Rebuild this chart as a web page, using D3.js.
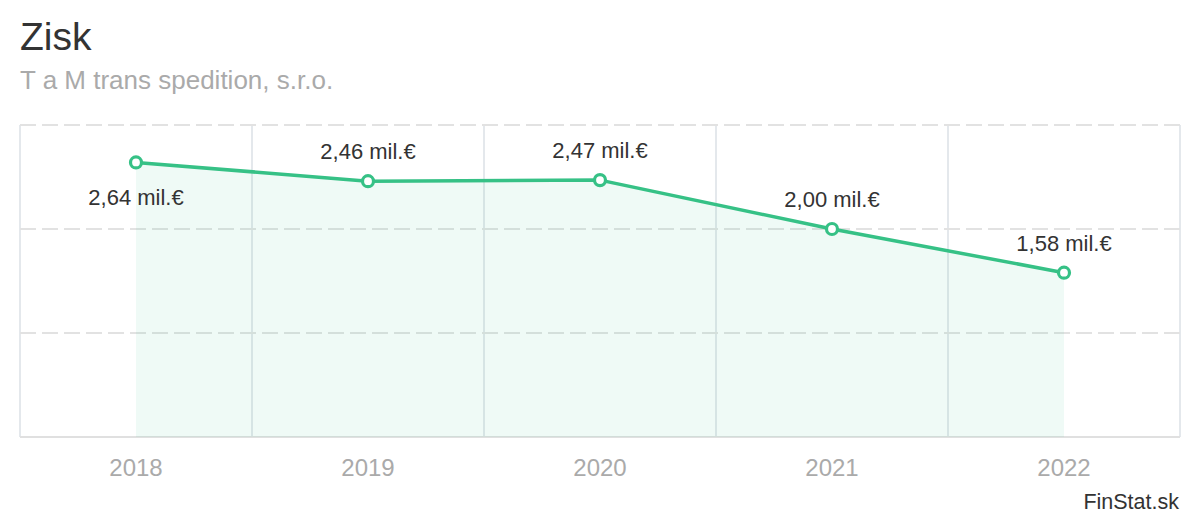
<!DOCTYPE html>
<html>
<head>
<meta charset="utf-8">
<script src="https://cdn.jsdelivr.net/npm/d3@7"></script>
<style>
  html, body { margin: 0; padding: 0; background: #fff; }
  svg { display: block; font-family: Arial, "Liberation Sans", Helvetica, sans-serif; }
</style>
</head>
<body>
<svg id="chart" width="1200" height="520"></svg>
<script>
const title = "Zisk";
const subtitle = "T a M trans spedition, s.r.o.";
const credit = "FinStat.sk";
const years = ["2018", "2019", "2020", "2021", "2022"];
const profit = [2.64, 2.46, 2.47, 2.00, 1.58];
const valueLabels = ["2,64 mil.€", "2,46 mil.€", "2,47 mil.€", "2,00 mil.€", "1,58 mil.€"];
const yTicks = [1, 2, 3];

const W = 1200, H = 520;
const plot = { left: 20, right: 1180, top: 125, bottom: 437 };
const green = "#36c186";

const svg = d3.select("#chart");

const x = d3.scaleBand().domain(years).range([plot.left, plot.right]);
const y = d3.scaleLinear().domain([0, 3]).range([plot.bottom, plot.top]);
const cx = d => x(d) + x.bandwidth() / 2;

// titles
svg.append("text").attr("x", 20).attr("y", 50)
  .attr("font-size", 39).attr("fill", "#333").text(title);
svg.append("text").attr("x", 20).attr("y", 89)
  .attr("font-size", 26).attr("fill", "#aaa").text(subtitle);

// vertical grid (band boundaries) + borders
const gridG = svg.append("g");
const bounds = years.map(d => x(d)).concat([plot.right]);
gridG.selectAll("line.v").data(bounds).join("line")
  .attr("x1", d => d).attr("x2", d => d)
  .attr("y1", plot.top).attr("y2", plot.bottom)
  .attr("stroke", "#e4e8ec").attr("stroke-width", 2);

// horizontal dashed grid
gridG.selectAll("line.h").data(yTicks).join("line")
  .attr("x1", plot.left).attr("x2", plot.right)
  .attr("y1", d => y(d)).attr("y2", d => y(d))
  .attr("stroke", "#e2e2e2").attr("stroke-width", 2)
  .attr("stroke-dasharray", "16,6");

// x axis line
svg.append("line")
  .attr("x1", plot.left).attr("x2", plot.right)
  .attr("y1", plot.bottom).attr("y2", plot.bottom)
  .attr("stroke", "#e0e0e0").attr("stroke-width", 2);

// x axis labels
const xAxis = d3.axisBottom(x).tickSize(0).tickPadding(0);
const ax = svg.append("g").attr("transform", `translate(0,${plot.bottom})`).call(xAxis);
ax.select(".domain").remove();
ax.selectAll("text")
  .attr("font-family", "Arial, 'Liberation Sans', sans-serif")
  .attr("font-size", 24).attr("fill", "#aaa")
  .attr("dy", null).attr("y", 39);

const data = years.map((d, i) => ({ year: d, v: profit[i], label: valueLabels[i] }));

// area
const area = d3.area().x(d => cx(d.year)).y0(y(0)).y1(d => y(d.v));
svg.append("path").datum(data).attr("d", area)
  .attr("fill", green).attr("fill-opacity", 0.08);

// line
const line = d3.line().x(d => cx(d.year)).y(d => y(d.v));
svg.append("path").datum(data).attr("d", line)
  .attr("fill", "none").attr("stroke", green).attr("stroke-width", 3.5)
  .attr("stroke-linejoin", "round").attr("stroke-linecap", "round");

// markers
svg.selectAll("circle.pt").data(data).join("circle")
  .attr("cx", d => cx(d.year)).attr("cy", d => y(d.v)).attr("r", 5.5)
  .attr("fill", "#fff").attr("stroke", green).attr("stroke-width", 3.2);

// value labels
svg.selectAll("text.val").data(data).join("text")
  .attr("x", d => cx(d.year))
  .attr("y", d => {
    const py = y(d.v);
    return (py - 36 < plot.top + 12) ? py + 43 : py - 22;
  })
  .attr("text-anchor", "middle").attr("font-size", 22).attr("fill", "#333")
  .text(d => d.label);

// credit
svg.append("text").attr("x", 1179).attr("y", 509).attr("text-anchor", "end")
  .attr("font-size", 21.5).attr("fill", "#333").text(credit);
</script>
</body>
</html>
